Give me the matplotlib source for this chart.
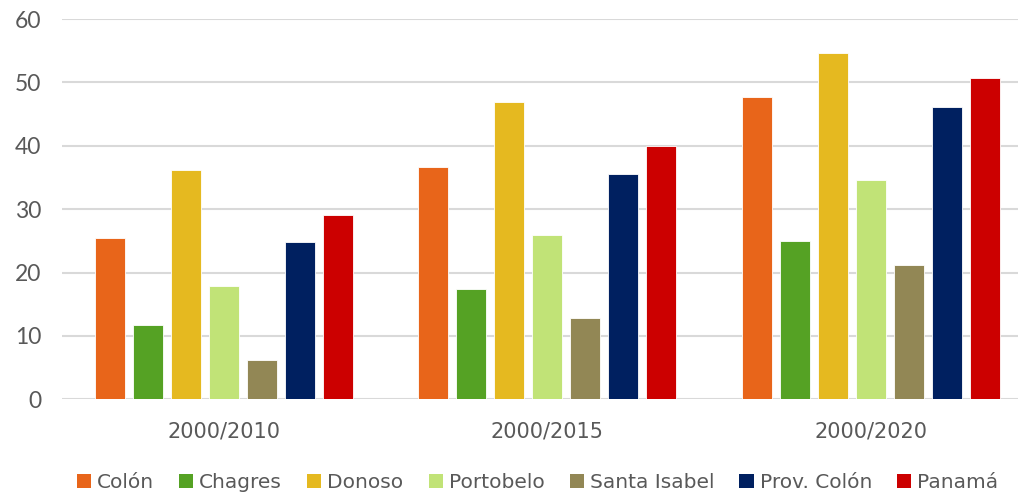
import matplotlib
matplotlib.use("Agg")
import matplotlib.pyplot as plt
import numpy as np
from matplotlib.patches import Patch

categories = ["2000/2010", "2000/2015", "2000/2020"]
series_names = ["Colón", "Chagres", "Donoso", "Portobelo", "Santa Isabel", "Prov. Colón", "Panamá"]
colon = [25.5, 36.7, 47.7]
chagres = [11.8, 17.4, 24.9]
donoso = [36.1, 46.9, 54.6]
portobelo = [17.9, 26.0, 34.6]
santa_isabel = [6.2, 12.8, 21.2]
prov_colon = [24.8, 35.5, 46.1]
panama = [29.0, 40.0, 50.7]
yticks = [0, 10, 20, 30, 40, 50, 60]

series = [colon, chagres, donoso, portobelo, santa_isabel, prov_colon, panama]
colors = ["#E8651A", "#55A224", "#E5B920", "#C1E377", "#928755", "#002060", "#CC0000"]

plt.rcParams['font.family'] = ['DejaVu Sans']
txt = "#595959"

fig = plt.figure(figsize=(10.18, 4.95), dpi=100)
ax = fig.add_axes([62/1018, (495-399.3)/495, (1018-62)/1018, (399.3-19)/495])

x = np.arange(len(categories))
step = 38/323.5
width = 30/323.5
for i, (vals, c) in enumerate(zip(series, colors)):
    ax.bar(x + (i-3)*step, vals, width=width, color=c, edgecolor="white", linewidth=0.6, zorder=3)

ax.set_ylim(0, 60)
ax.set_xlim(-0.5, -0.5 + (1018-62)/323.5)
ax.set_yticks(yticks)
ax.set_yticklabels([str(v) for v in yticks], fontsize=16.5, color=txt, family='Lato')
ax.set_xticks(x)
ax.set_xticklabels(categories, fontsize=15, color=txt)
ax.tick_params(axis='both', length=0)
ax.tick_params(axis='y', pad=15)
ax.tick_params(axis='x', pad=16)
ax.grid(axis='y', color="#D9D9D9", linewidth=1.5, zorder=0)
for s in ax.spines.values():
    s.set_visible(False)

handles = [Patch(facecolor=c, edgecolor='none') for c in colors]
fig.legend(handles, series_names, loc='center', bbox_to_anchor=(0.528, 0.026), ncol=7,
           frameon=False, fontsize=14.5, handlelength=0.7, handleheight=0.7,
           handletextpad=0.3, columnspacing=1.25, labelcolor=txt)

fig.savefig("out.png", dpi=100)
